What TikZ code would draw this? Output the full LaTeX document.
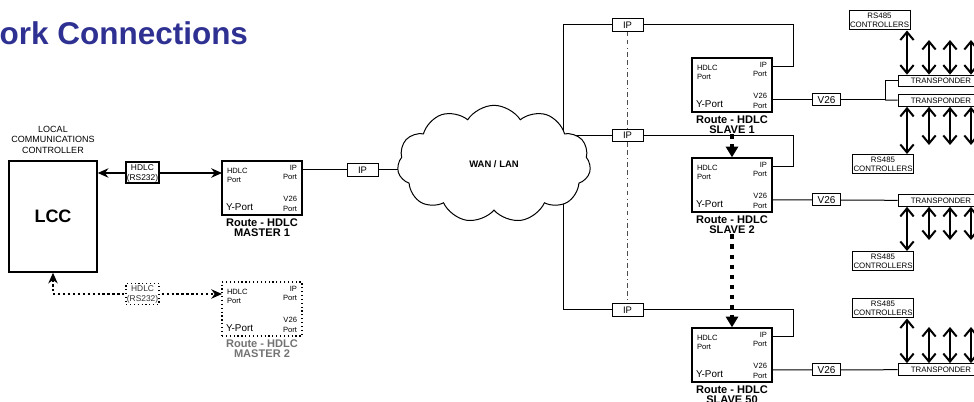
\documentclass[tikz,border=0pt]{standalone}
\usepackage{fontspec}
\setmainfont{Liberation Sans}
\usetikzlibrary{positioning,arrows.meta,shapes.symbols}

\definecolor{titleblue}{RGB}{46,49,146}

\tikzset{every picture/.style={line width=0.75pt}}
\tikzset{
  pagetitle/.style={anchor=base east, inner sep=0pt, text=titleblue, font=\bfseries\fontsize{23.6}{28}\selectfont},
  lccbox/.style={draw, line width=1pt, minimum width=66pt, minimum height=83.25pt, inner sep=0pt, font=\bfseries\fontsize{13.5}{16}\selectfont},
  lcclabel/.style={inner sep=0pt, align=center, font=\fontsize{6.75}{7.9}\selectfont},
  router/.style={draw, line width=1pt, minimum width=60pt, minimum height=40.5pt, inner sep=0pt},
  portsmall/.style={inner sep=0pt, font=\fontsize{5.7}{7}\selectfont},
  portbig/.style={inner sep=0pt, font=\fontsize{7.4}{8}\selectfont},
  routertitle/.style={inner sep=0pt, align=center, font=\bfseries\fontsize{8.3}{8}\selectfont},
  hdlcbox/.style={draw, fill=white, minimum width=24.75pt, minimum height=15.75pt, inner sep=0.5pt, align=center, font=\fontsize{6.3}{7.5}\selectfont},
  dotbox/.style={dash pattern=on 0.9pt off 2pt, line width=0.9pt},
  ipbox/.style={draw, fill=white, minimum width=23.25pt, minimum height=9.5pt, inner sep=0pt, font=\fontsize{7.1}{8}\selectfont},
  v26box/.style={draw, fill=white, minimum width=20.6pt, minimum height=9pt, inner sep=0pt, font=\fontsize{7.5}{8}\selectfont},
  transbox/.style={draw, fill=white, minimum width=64.5pt, minimum height=8.8pt, inner sep=0pt, font=\fontsize{5.9}{7}\selectfont},
  rsbox/.style={draw, fill=white, minimum width=45.75pt, minimum height=14.25pt, inner sep=0pt, align=center, font=\fontsize{5.9}{7}\selectfont},
  wancloud/.style={cloud, cloud puffs=11, cloud puff arc=115, cloud ignores aspect, draw, fill=white, minimum width=145pt, minimum height=88pt, inner sep=0pt, font=\bfseries\fontsize{7.1}{8}\selectfont},
  hdlclink/.style={line width=1.5pt, {Stealth[length=8pt,width=7pt,inset=2.5pt]}-{Stealth[length=8pt,width=7pt,inset=2.5pt]}},
  hdlcdots/.style={line width=1.8pt, dash pattern=on 1.7pt off 2pt, {Stealth[length=8pt,width=7pt,inset=2.5pt]}-{Stealth[length=8pt,width=7pt,inset=2.5pt]}},
  slavelink/.style={line width=2.5pt, dash pattern=on 3.2pt off 4.3pt, -{Triangle[length=8pt,width=9pt]}},
  ipdivide/.style={line width=0.8pt, black!70, dash pattern=on 3.5pt off 2.5pt on 3.5pt off 2.5pt on 0.6pt off 2.5pt},
  dblarrow/.style={line width=1.5pt, {Straight Barb[length=6pt,width=10pt]}-{Straight Barb[length=6pt,width=10pt]}}
}

% router box: #1 name, (#2,#3) top left corner, #4 second title line, #5 box style, #6 title colour
\newcommand{\hdlcrouter}[6]{%
  \node[router,#5] (#1) at (#2+40,#3+27) {};
  \node[portsmall,anchor=north west,align=left] (#1-hdlclbl) at (#2+4.5,#3+6.3) {HDLC\\Port};
  \node[portsmall,anchor=north east,align=right] (#1-iplbl) at (#2+75.5,#3+3.3) {IP\\Port};
  \node[portsmall,anchor=north east,align=right] (#1-v26lbl) at (#2+75.5,#3+35) {V26\\Port};
  \node[portbig,anchor=north west] (#1-ylbl) at (#2+3.5,#3+42.3) {Y-Port};
  \node[routertitle,anchor=north,text=#6] (#1-title) at (#2+40,#3+57) {Route - HDLC\\#4};
  \coordinate (#1-hdlc) at (#2,#3+12);
  \coordinate (#1-ip) at (#2+80,#3+9);
  \coordinate (#1-ipbend) at (#2+101,#3+9);
  \coordinate (#1-v26) at (#2+80,#3+42);
}

\begin{document}
\begin{tikzpicture}[x=0.75pt,y=0.75pt,yscale=-1,xscale=1]
\useasboundingbox (0,0) rectangle (974,402);

% Text Node
\node[pagetitle] (title) at (248.5,45) {ork Connections};

%Shape: Rectangle
\node[lccbox] (lcc) at (53,216.5) {LCC};
% Text Node
\node[lcclabel, above=5pt of lcc] (lcclbl) {LOCAL\\COMMUNICATIONS\\CONTROLLER};

%Routers
\hdlcrouter{master1}{222}{161}{MASTER 1}{}{black}
\hdlcrouter{master2}{222}{282}{MASTER 2}{dotbox}{black!55}
\hdlcrouter{slave1}{692}{58}{SLAVE 1}{}{black}
\hdlcrouter{slave2}{692}{158}{SLAVE 2}{}{black}
\hdlcrouter{slave50}{692}{328}{SLAVE 50}{}{black}

%Straight Lines
\draw[hdlclink] (master1-hdlc -| lcc.east) -- node[hdlcbox, pos=0.36] (hdlc1) {HDLC\\(RS232)} (master1-hdlc);
%Straight Lines
\draw[hdlcdots] (lcc.south) |- node[hdlcbox, dotbox, text=black!80, pos=0.765] (hdlc2) {HDLC\\(RS232)} (master2-hdlc);

% IP links to the WAN / LAN
\coordinate (wanc) at (494,164);
\coordinate (tap) at (563,164);
\node[ipbox] (ipm) at (362.5,170) {IP};
\node[ipbox] (ipt) at (627.5,25) {IP};
\node[ipbox] (ipmid) at (627.5,135.5) {IP};
\node[ipbox] (ipb) at (627.5,310) {IP};
\draw (master1-ip) -- (ipm);
\draw (ipm) -- (ipm.east -| wanc);
\draw (tap) |- (ipt);
\draw (tap |- ipmid) -- (ipmid);
\draw (tap) |- (ipb);
\draw (ipt) -| (slave1-ipbend) -- (slave1-ip);
\draw (ipmid) -| (slave2-ipbend) -- (slave2-ip);
\draw (ipb) -| (slave50-ipbend) -- (slave50-ip);

%Shape: Cloud
\node[wancloud] (wan) at (wanc) {WAN / LAN};

%Dash-dot divider
\draw[ipdivide] (ipt.south) -- (ipmid.north);
\draw[ipdivide] (ipmid.south) -- (ipb.north);

%Slave chain
\draw[slavelink] (slave1-title.south) -- (slave2.north);
\draw[slavelink] (slave2-title.south) -- (slave50.north);

% V26 side of slave 1
\node[rsbox] (rs1) at (879.5,20.5) {RS485\\CONTROLLERS};
\node[transbox] (tr1) at (941,81) {TRANSPONDER};
\node[transbox] (tr2) at (941,100.5) {TRANSPONDER};
\node[v26box] (v26a) at (826.5,100) {V26};
\coordinate (split1) at (885,100);
\draw (slave1-v26) -- (v26a) -- (split1) |- (tr1);
\draw (split1) -- (tr2);
\draw[dblarrow] (rs1.south -| 907,0) -- (tr1.north -| 907,0);
\foreach \ax in {929,950,971} \draw[dblarrow] (\ax,40) -- (\ax,40 |- tr1.north);
\node[rsbox] (rs2) at (883,164) {RS485\\CONTROLLERS};
\draw[dblarrow] (tr2.south -| 907,0) -- (rs2.north -| 907,0);
\foreach \ax in {929,950,971} \draw[dblarrow] (\ax,145) -- (\ax,145 |- tr2.south);

% V26 side of slave 2
\node[transbox] (tr3) at (941,200.5) {TRANSPONDER};
\node[v26box] (v26b) at (826.5,200) {V26};
\draw (slave2-v26) -- (v26b) -- (tr3);
\node[rsbox] (rs3) at (883,261) {RS485\\CONTROLLERS};
\draw[dblarrow] (tr3.south -| 907,0) -- (rs3.north -| 907,0);
\foreach \ax in {929,950,971} \draw[dblarrow] (\ax,240) -- (\ax,240 |- tr3.south);

% V26 side of slave 50
\node[rsbox] (rs4) at (883,308.5) {RS485\\CONTROLLERS};
\node[transbox] (tr4) at (941,369.5) {TRANSPONDER};
\node[v26box] (v26c) at (826.5,370) {V26};
\draw (slave50-v26) -- (v26c) -- (tr4);
\draw[dblarrow] (rs4.south -| 907,0) -- (tr4.north -| 907,0);
\foreach \ax in {929,950,971} \draw[dblarrow] (\ax,327) -- (\ax,327 |- tr4.north);

\end{tikzpicture}
\end{document}
